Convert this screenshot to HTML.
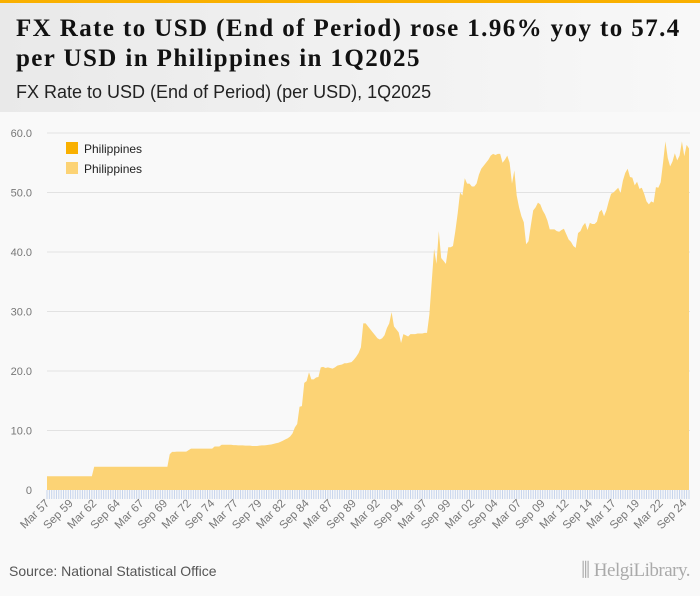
<!DOCTYPE html>
<html><head><meta charset="utf-8">
<style>
body{margin:0;width:700px;height:596px;background:#f9f9f9;overflow:hidden;font-family:"Liberation Sans",sans-serif}
#hdr{position:absolute;left:0;top:0;width:700px;height:112px;background:linear-gradient(90deg,#e9e9e9,#f8f8f8)}
#bar{position:absolute;left:0;top:0;width:700px;height:3px;background:#f9b000}
#t{position:absolute;left:16px;top:14px;font:bold 25px/30px "Liberation Serif",serif;color:#111;letter-spacing:1.4px;white-space:nowrap}
#st{position:absolute;left:16px;top:82px;font:18px "Liberation Sans",sans-serif;color:#222}
#src{position:absolute;left:9px;top:563px;font:14px "Liberation Sans",sans-serif;color:#555}
#logo{position:absolute;right:10px;top:560px;font:19px "Liberation Serif",serif;color:#aaa;letter-spacing:-0.5px}
</style></head><body>
<div id="hdr"></div>
<div id="bar"></div>
<div id="t">FX Rate to USD (End of Period) rose 1.96% yoy to 57.4<br>per USD in Philippines in 1Q2025</div>
<div id="st">FX Rate to USD (End of Period) (per USD), 1Q2025</div>
<svg id="chart" width="700" height="596" style="position:absolute;left:0;top:0"></svg>
<div id="src">Source: National Statistical Office</div>
<div id="logo">⫼ HelgiLibrary.</div>
<script>
const startYear = 1957;
const values = [
2.3,2.3,2.3,2.3, 2.3,2.3,2.3,2.3, 2.3,2.3,2.3,2.3, 2.3,2.3,2.3,2.3, 2.3,2.3,2.3,2.3,
3.9,3.9,3.9,3.9, 3.9,3.9,3.9,3.9, 3.9,3.9,3.9,3.9, 3.9,3.9,3.9,3.9, 3.9,3.9,3.9,3.9,
3.9,3.9,3.9,3.9, 3.9,3.9,3.9,3.9, 3.9,3.9,3.9,3.9,
6.0,6.4,6.4,6.45, 6.45,6.45,6.45,6.45, 6.7,6.95,6.95,6.95, 6.95,6.95,6.95,6.95,
6.95,6.95,6.95,7.3, 7.3,7.3,7.6,7.6, 7.6,7.6,7.6,7.55, 7.55,7.5,7.5,7.5,
7.45,7.45,7.45,7.4, 7.4,7.4,7.45,7.5, 7.5,7.55,7.6,7.65, 7.75,7.85,7.95,8.1,
8.3,8.5,8.7,9.0, 9.5,10.5,11.1,14.0, 14.1,18.0,18.3,19.8, 18.6,18.6,18.9,19.0,
20.6,20.7,20.5,20.6, 20.5,20.4,20.6,20.9, 21.0,21.1,21.3,21.3, 21.4,21.5,21.9,22.4,
23.0,24.0,28.0,28.0, 27.5,27.0,26.5,26.0, 25.5,25.3,25.5,26.0, 27.2,28.0,29.9,27.5,
27.0,26.5,24.7,26.2, 26.0,25.8,26.2,26.2, 26.2,26.3,26.3,26.3, 26.4,26.4,29.5,35.0,
40.5,38.0,43.5,39.0, 38.5,38.0,40.8,40.8, 41.0,43.5,46.5,50.0, 49.5,52.4,51.5,51.5,
51.0,51.0,51.5,53.0, 54.0,54.5,55.0,55.5, 56.2,56.5,56.3,56.5, 56.5,55.0,55.5,56.2,
55.0,51.5,53.7,49.5, 47.5,46.0,45.0,41.3, 41.8,44.5,47.0,47.5, 48.3,48.0,47.0,46.3,
45.3,43.8,43.8,43.8, 43.5,43.4,43.7,43.9, 43.0,42.1,41.7,41.0, 40.7,43.2,43.5,44.4,
44.9,43.7,44.9,44.7, 44.7,45.1,46.7,47.1, 46.0,47.0,48.5,49.8, 50.0,50.4,50.8,49.9,
52.0,53.3,54.0,52.6, 52.5,51.2,51.8,50.6, 50.8,49.8,48.5,48.0, 48.5,48.3,50.9,50.8,
51.7,55.0,58.6,55.8, 54.4,55.2,56.6,55.4, 56.2,58.6,56.1,58.0, 57.4
];
const yTicks = [0,10,20,30,40,50,60];
const yTickLabels = ["0","10.0","20.0","30.0","40.0","50.0","60.0"];
const legendLabels = ["Philippines","Philippines"];

const NS="http://www.w3.org/2000/svg";
const svg=document.getElementById('chart');
const x0=47,x1=689,y0=490,y60=133;
const n=values.length;
const X=i=>x0+i*(x1-x0)/(n-1);
const Y=v=>y0-(v/60)*(y0-y60);
function mk(tag,attrs,parent){const e=document.createElementNS(NS,tag);for(const k in attrs)e.setAttribute(k,attrs[k]);(parent||svg).appendChild(e);return e;}
yTicks.forEach((t,i)=>{
  if(t>0){const g=mk('line',{x1:x0,x2:690,y1:Y(t),y2:Y(t),stroke:'#e2e2e2','stroke-width':1});
  
  }
  const l=mk('text',{x:32,y:Y(t)+4,'text-anchor':'end','font-size':'11','fill':'#777','font-family':'Liberation Sans, sans-serif'});
  l.textContent=yTickLabels[i];
  
  
});
let d='M'+X(0)+','+y0;
values.forEach((v,i)=>{d+=' L'+X(i).toFixed(2)+','+Y(v).toFixed(2);});
d+=' L'+X(n-1)+','+y0+' Z';
const area=mk('path',{d:d,fill:'#fcd375'});


for(let i=0;i<n;i++){
  const t=mk('line',{x1:X(i),x2:X(i),y1:y0,y2:y0+9,stroke:'#c5d3ec','stroke-width':1});
  
  
  if(i%10===0){
    const q=i%4, yr=(startYear+Math.floor(i/4))%100;
    const lab=(q===0?'Mar ':q===1?'Jun ':q===2?'Sep ':'Dec ')+String(yr).padStart(2,'0');
    const tx=mk('text',{x:X(i)+3,y:y0+14,'text-anchor':'end','font-size':'11.5','fill':'#777','font-family':'Liberation Sans, sans-serif',transform:'rotate(-45 '+(X(i)+3)+' '+(y0+14)+')'});
    tx.textContent=lab;
    
    
  }
}
const legColors=['#f9b000','#fcd375'];
legendLabels.forEach((s,i)=>{
  const r=mk('rect',{x:66,y:142+i*20,width:12,height:12,fill:legColors[i]});
  
  
  const t=mk('text',{x:84,y:153+i*20,'font-size':'12','fill':'#222','font-family':'Liberation Sans, sans-serif'});
  t.textContent=s;
  
  
});
</script>
</body></html>
